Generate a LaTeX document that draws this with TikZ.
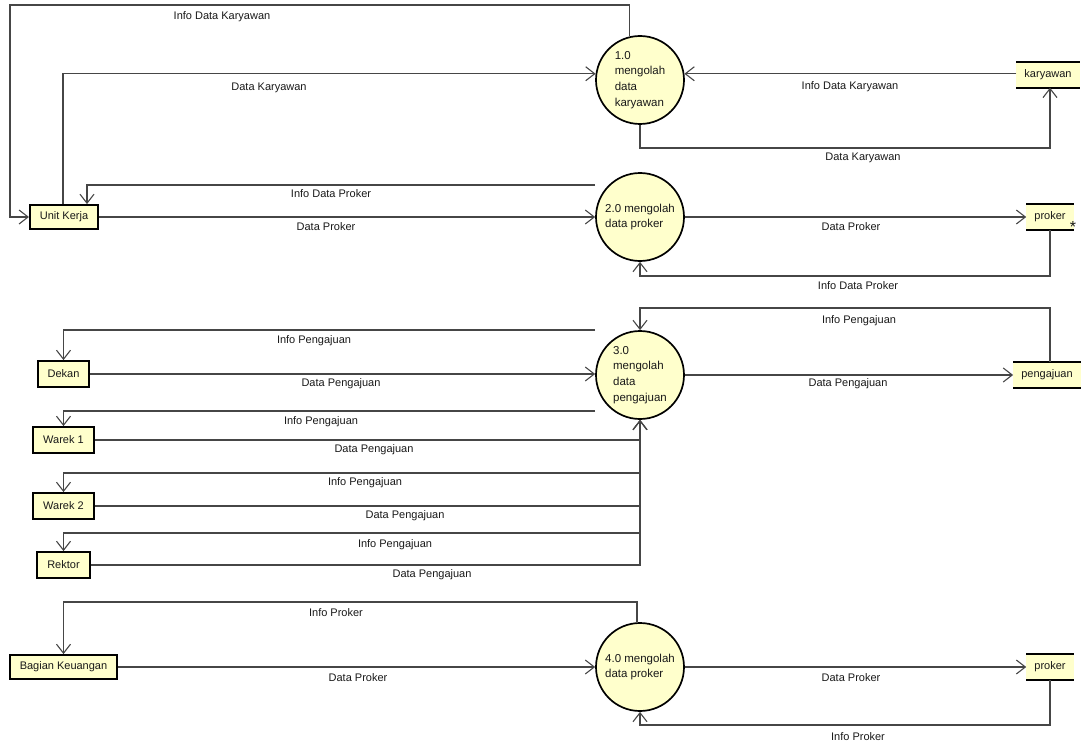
\documentclass[tikz,border=0pt]{standalone}
\usepackage{fontspec}
\setmainfont{Liberation Sans}
\usetikzlibrary{arrows.meta}
\definecolor{fillc}{RGB}{255,255,204}
\definecolor{linec}{RGB}{70,70,70}
\definecolor{textc}{RGB}{25,25,25}
\tikzset{
  proc/.style={circle, draw=black, line width=1.7pt, fill=fillc, minimum size=88pt, inner sep=0pt, align=left, text=textc, font=\fontsize{11.5}{15.8}\selectfont},
  ent/.style={draw=black, line width=1.8pt, fill=fillc, inner xsep=10pt, inner ysep=0pt, minimum height=24pt, text=textc, font=\fontsize{11}{13}\selectfont},
  store/.style={fill=fillc, inner xsep=8pt, inner ysep=0pt, minimum height=25pt, text=textc, font=\fontsize{11}{13}\selectfont},
  storeline/.style={draw=black, line width=2.2pt},
  flow/.style={draw=linec, line width=1.1pt, -{Straight Barb[length=9pt,width=14pt,line width=1.1pt]}},
  lbl/.style={text=textc, font=\fontsize{11}{13}\selectfont, inner sep=0pt}
}
\begin{document}
\begin{tikzpicture}[x=1pt,y=-1pt]
\useasboundingbox (0,0) rectangle (1083,746);
% processes
\node[proc] (c1) at (640,80) {1.0\\mengolah\\data\\karyawan};
\node[proc] (c2) at (640,217) {2.0 mengolah\\data proker};
\node[proc] (c3) at (640,375) {3.0\\mengolah\\data\\pengajuan};
\node[proc] (c4) at (640,667) {4.0 mengolah\\data proker};
% entities
\node[ent] (uk) at (64,217) {Unit Kerja};
\node[ent, minimum height=26pt] (dk) at (63.5,374) {Dekan};
\node[ent, minimum height=26pt] (w1) at (63.5,440) {Warek 1};
\node[ent, minimum height=26pt] (w2) at (63.5,506) {Warek 2};
\node[ent, minimum height=26pt] (rk) at (63.5,565) {Rektor};
\node[ent] (bk) at (63.5,667) {Bagian Keuangan};
% stores
\node[store] (s1) at (1048,75) {karyawan};
\node[store] (s2) at (1050,217) {proker};
\node[store] (s3) at (1047,375) {pengajuan};
\node[store] (s4) at (1050,667) {proker};
\foreach \s in {s1,s2,s3,s4}{
  \draw[storeline] (\s.north west) -- (\s.north east) (\s.south west) -- (\s.south east);
}
\node[lbl, font=\fontsize{16}{16}\selectfont] (ast) at (1073,227) {*};
% section 1
\draw[flow] (c1.104.5) |- (10,5) |- (uk.west);
\draw[flow] ([xshift=-1pt]uk.north) |- (c1.172);
\draw[flow] (s1.west |- c1.8) -- (c1.8);
\draw[flow] (c1.south) |- ([xshift=2pt]s1.south |- 0,148) -- ([xshift=2pt]s1.south);
% section 2
\draw[flow] (c2.west |- 0,185) -| ([xshift=23pt]uk.north);
\draw[flow] (uk.east) -- (c2.west);
\draw[flow] (c2.east) -- (s2.west);
\draw[flow] (s2.south) |- (c2.south |- 0,276) -- (c2.south);
% section 3
\draw[flow] ([xshift=3pt]s3.north) |- (c3.north |- 0,308) -- (c3.north);
\draw[flow] (c3.east) -- (s3.west);
\draw[flow] (c3.west |- 0,330) -| (dk.north);
\draw[flow] (dk.east) -- (c3.west |- dk.east);
\draw[flow] (c3.west |- 0,411) -| (w1.north);
\draw[flow] (w1.east) -| (c3.south);
\draw[flow] (c3.south |- 0,473) -| (w2.north);
\draw[flow] (w2.east) -| (c3.south);
\draw[flow] (c3.south |- 0,533) -| (rk.north);
\draw[flow] (rk.east) -| (c3.south);
% section 4
\draw[flow] ([xshift=-3pt]c4.north) |- (bk.north |- 0,602) -- (bk.north);
\draw[flow] (bk.east) -- (c4.west);
\draw[flow] (c4.east) -- (s4.west);
\draw[flow] (s4.south) |- (c4.south |- 0,725) -- (c4.south);
% labels
\node[lbl] (l1) at (222,17) {Info Data Karyawan};
\node[lbl] (l2) at (269,88) {Data Karyawan};
\node[lbl] (l3) at (850,87) {Info Data Karyawan};
\node[lbl] (l4) at (863,158) {Data Karyawan};
\node[lbl] (l5) at (331,194) {Info Data Proker};
\node[lbl] (l6) at (326,227) {Data Proker};
\node[lbl] (l7) at (851,227) {Data Proker};
\node[lbl] (l8) at (858,286) {Info Data Proker};
\node[lbl] (l9) at (859,321) {Info Pengajuan};
\node[lbl] (l10) at (314,341) {Info Pengajuan};
\node[lbl] (l11) at (341,384) {Data Pengajuan};
\node[lbl] (l12) at (848,384) {Data Pengajuan};
\node[lbl] (l13) at (321,422) {Info Pengajuan};
\node[lbl] (l14) at (374,450) {Data Pengajuan};
\node[lbl] (l15) at (365,483) {Info Pengajuan};
\node[lbl] (l16) at (405,516) {Data Pengajuan};
\node[lbl] (l17) at (395,545) {Info Pengajuan};
\node[lbl] (l18) at (432,575) {Data Pengajuan};
\node[lbl] (l19) at (336,613) {Info Proker};
\node[lbl] (l20) at (358,678) {Data Proker};
\node[lbl] (l21) at (851,678) {Data Proker};
\node[lbl] (l22) at (858,737) {Info Proker};
\end{tikzpicture}
\end{document}
